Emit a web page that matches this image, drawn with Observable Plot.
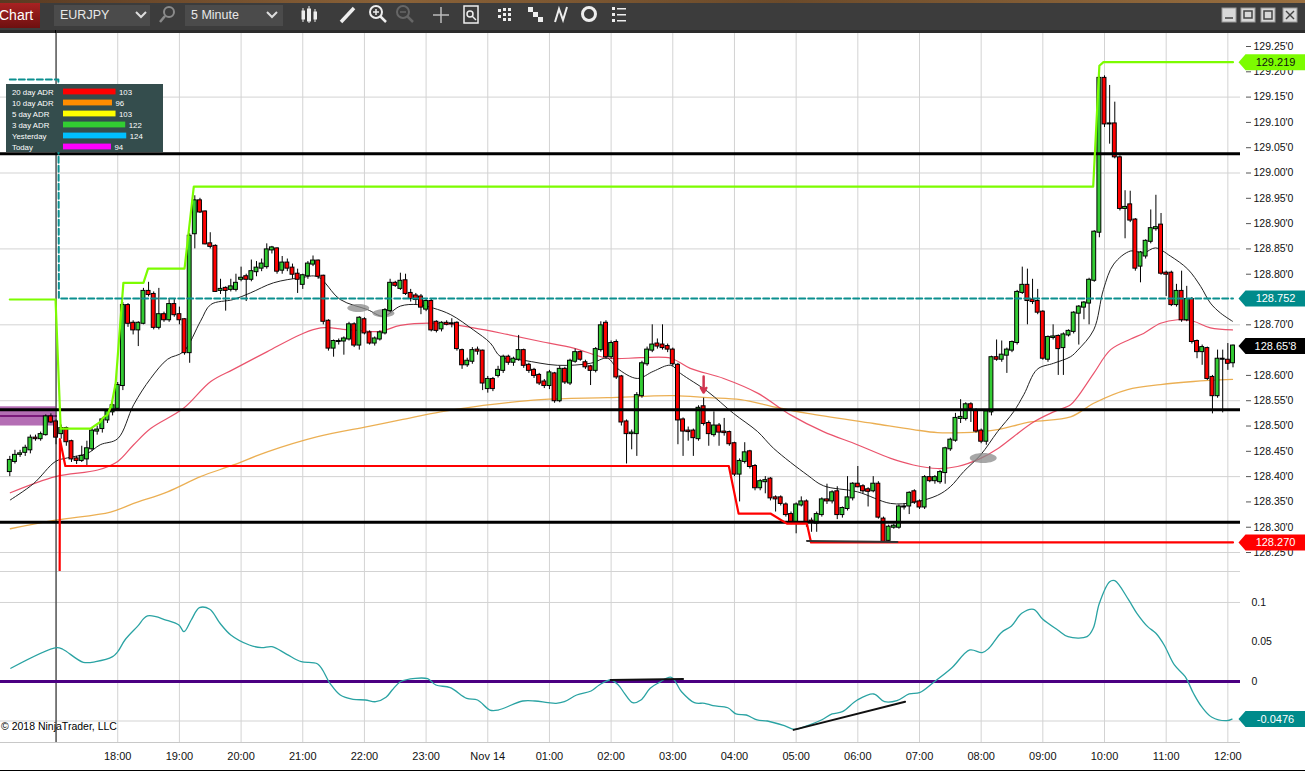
<!DOCTYPE html>
<html><head><meta charset="utf-8">
<script src="https://cdn.jsdelivr.net/npm/d3@7"></script>
<script src="https://cdn.jsdelivr.net/npm/@observablehq/plot@0.6"></script>
<style>
body{margin:0;background:#fff;width:1305px;height:771px;overflow:hidden;position:relative;font-family:"Liberation Sans",Arial,sans-serif;}
#tb{position:absolute;left:0;top:0;width:1305px;height:33px;background:#3c3c3c;}
#tab{position:absolute;left:0;top:3px;width:40px;height:25px;background:linear-gradient(#a82222,#6e1010);color:#fff;font-size:14px;line-height:25px;text-indent:-1px;overflow:hidden;}
.dd{position:absolute;top:5px;height:21px;background:#4b4b4b;color:#e8e8e8;font-size:12.5px;line-height:21px;padding-left:6px;box-sizing:border-box;}
#price,#osc,#legend{position:absolute;}
#price{left:0;top:33px;}
#osc{left:0;top:571px;}
#legend{left:6px;top:84px;}
#copy{position:absolute;left:1px;top:721px;font-size:10.5px;color:#000;line-height:11px;}
#bottomline{position:absolute;left:0;top:770px;width:1305px;height:1px;background:#000;}
</style></head><body>
<div id="tb">
  <div style="position:absolute;left:0;top:0;width:1305px;height:3px;background:linear-gradient(90deg,#5a3a22,#8a6238 30%,#6b4a2a 60%,#9a7040)"></div>
  <div style="position:absolute;left:0;top:30px;width:1305px;height:3px;background:#2c2c2c"></div>
  <div id="tab">Chart</div>
  <div class="dd" style="left:54px;width:96px">EURJPY</div>
  <div class="dd" style="left:185px;width:98px">5 Minute</div>
  <svg width="1305" height="33" style="position:absolute;left:0;top:0">
    <polyline points="136,12 141,17 146,12" fill="none" stroke="#ddd" stroke-width="2"/>
    <polyline points="267,12 272,17 277,12" fill="none" stroke="#ddd" stroke-width="2"/>
    <circle cx="169" cy="12" r="5" fill="none" stroke="#8a8a8a" stroke-width="2"/>
    <line x1="165" y1="16" x2="160" y2="22" stroke="#8a8a8a" stroke-width="2.5"/>
    <g stroke="#eee" fill="#eee"><line x1="303" y1="8" x2="303" y2="22"/><rect x="302" y="11" width="2.5" height="8"/><line x1="309" y1="6" x2="309" y2="23"/><rect x="307.5" y="9" width="3" height="12"/><line x1="315" y1="9" x2="315" y2="22"/><rect x="314" y="12" width="2.5" height="7"/></g>
    <line x1="341" y1="22" x2="354" y2="8" stroke="#eee" stroke-width="3.5"/>
    <circle cx="376" cy="12" r="6" fill="none" stroke="#eee" stroke-width="2"/><line x1="373" y1="12" x2="379" y2="12" stroke="#eee" stroke-width="1.5"/><line x1="376" y1="9" x2="376" y2="15" stroke="#eee" stroke-width="1.5"/><line x1="380" y1="16" x2="386" y2="22" stroke="#eee" stroke-width="2.5"/>
    <circle cx="403" cy="12" r="6" fill="none" stroke="#666" stroke-width="2"/><line x1="400" y1="12" x2="406" y2="12" stroke="#666" stroke-width="1.5"/><line x1="407" y1="16" x2="413" y2="22" stroke="#666" stroke-width="2.5"/>
    <line x1="433" y1="15" x2="449" y2="15" stroke="#bbb" stroke-width="1.5"/><line x1="441" y1="7" x2="441" y2="23" stroke="#bbb" stroke-width="1.5"/>
    <rect x="464" y="6" width="14" height="17" fill="none" stroke="#eee" stroke-width="1.5"/><circle cx="470" cy="14" r="3" fill="none" stroke="#eee" stroke-width="1.5"/><line x1="472" y1="16" x2="476" y2="20" stroke="#eee" stroke-width="1.5"/>
    <g fill="#eee"><rect x="498" y="9" width="3" height="3"/><rect x="498" y="15" width="3" height="3"/><rect x="503" y="8" width="3" height="3"/><rect x="503" y="13" width="3" height="3"/><rect x="503" y="18" width="3" height="3"/><rect x="508" y="8" width="3" height="3"/><rect x="508" y="13" width="3" height="3"/><rect x="508" y="18" width="3" height="3"/></g>
    <g fill="#eee"><rect x="528" y="7" width="5" height="5"/><rect x="533" y="12" width="5" height="5"/><rect x="538" y="17" width="5" height="5"/></g>
    <polyline points="555,22 559,9 563,20 567,7" fill="none" stroke="#eee" stroke-width="2"/>
    <circle cx="589" cy="14" r="6.5" fill="none" stroke="#eee" stroke-width="3"/>
    <g fill="#eee"><rect x="612" y="7" width="3" height="3"/><rect x="617" y="8" width="9" height="1.5"/><rect x="612" y="13" width="3" height="3"/><rect x="617" y="14" width="9" height="1.5"/><rect x="612" y="19" width="3" height="3"/><rect x="617" y="20" width="9" height="1.5"/></g>
    <g fill="#d8d8d8" stroke="#999"><rect x="1222" y="8" width="14" height="14"/><rect x="1241" y="8" width="14" height="14"/><rect x="1261" y="8" width="14" height="14"/><rect x="1283" y="8" width="14" height="14"/></g>
    <g stroke="#444" stroke-width="1.5" fill="none"><line x1="1225" y1="18" x2="1233" y2="18"/><rect x="1244" y="11" width="8" height="7"/><rect x="1264" y="11" width="8" height="8"/><line x1="1286" y1="11" x2="1294" y2="19"/><line x1="1294" y1="11" x2="1286" y2="19"/></g>
    <line x1="55.5" y1="30" x2="55.5" y2="33" stroke="#000"/>
  </svg>
</div>
<div id="price"></div>
<div id="osc"></div>
<div id="legend"></div>
<div id="copy">© 2018 NinjaTrader, LLC</div>
<div id="bottomline"></div>
<script>
// ---------- DATA ----------
// 5-minute EURJPY bars, index 0 = 16:15, index 9 = 17:00 (session start), index 238 = 12:05
const open = [
128.410,128.430,128.444,128.448,128.453,128.476,128.475,128.483,128.518,128.508,
128.485,128.495,128.469,128.435,128.432,128.435,128.455,128.490,128.495,128.512,
128.528,128.535,128.580,128.738,128.703,128.690,128.703,128.766,128.760,128.695,
128.720,128.710,128.740,128.720,128.710,128.645,128.880,128.945,128.923,128.860,
128.855,128.768,128.772,128.770,128.770,128.790,128.795,128.790,128.805,128.812,
128.815,128.848,128.850,128.808,128.822,128.812,128.800,128.780,128.797,128.820,
128.826,128.796,128.707,128.654,128.667,128.668,128.672,128.700,128.660,128.710,
128.684,128.664,128.672,128.684,128.728,128.782,128.772,128.787,128.762,128.757,
128.755,128.731,128.746,128.705,128.692,128.703,128.702,128.703,128.649,128.621,
128.628,128.650,128.648,128.574,128.592,128.600,128.610,128.636,128.626,128.632,
128.649,128.620,128.610,128.600,128.587,128.580,128.603,128.550,128.612,128.585,
128.628,128.645,128.625,128.617,128.610,128.651,128.703,128.637,128.665,128.597,
128.508,128.485,128.485,128.560,128.623,128.650,128.662,128.660,128.657,128.650,
128.620,128.512,128.490,128.490,128.475,128.538,128.505,128.483,128.500,128.488,
128.487,128.465,128.405,128.430,128.449,128.420,128.378,128.390,128.395,128.358,
128.358,128.344,128.325,128.310,128.344,128.350,128.312,128.308,128.325,128.354,
128.352,128.370,128.325,128.337,128.358,128.385,128.380,128.374,128.372,128.385,
128.316,128.274,128.300,128.300,128.340,128.342,128.370,128.350,128.340,128.398,
128.392,128.390,128.408,128.455,128.472,128.515,128.515,128.542,128.530,128.490,
128.470,128.528,128.635,128.632,128.640,128.650,128.665,128.764,128.778,128.749,
128.746,128.725,128.632,128.675,128.677,128.655,128.680,128.687,128.723,128.735,
128.743,128.788,128.883,129.187,129.097,129.097,129.030,128.930,128.937,128.907,
128.816,128.836,128.865,128.890,128.897,128.802,128.802,128.740,128.766,128.710,
128.750,128.667,128.647,128.653,128.596,128.560,128.632,128.630,128.625];
const high = [
128.440,128.452,128.452,128.462,128.482,128.482,128.488,128.522,128.524,128.512,
128.502,128.498,128.472,128.440,128.460,128.470,128.496,128.500,128.516,128.532,
128.548,128.586,128.744,128.742,128.708,128.706,128.772,128.784,128.765,128.772,
128.725,128.752,128.750,128.735,128.712,128.880,128.955,128.950,128.925,128.882,
128.858,128.790,128.775,128.790,128.800,128.814,128.800,128.828,128.825,128.830,
128.860,128.855,128.852,128.835,128.830,128.820,128.810,128.800,128.825,128.836,
128.828,128.798,128.710,128.670,128.672,128.676,128.705,128.704,128.716,128.714,
128.688,128.676,128.688,128.732,128.790,128.786,128.802,128.800,128.770,128.762,
128.760,128.750,128.750,128.708,128.706,128.708,128.712,128.706,128.652,128.634,
128.655,128.656,128.650,128.598,128.596,128.618,128.640,128.640,128.636,128.679,
128.652,128.624,128.614,128.604,128.592,128.610,128.606,128.618,128.616,128.632,
128.652,128.648,128.630,128.620,128.655,128.706,128.708,128.668,128.670,128.600,
128.512,128.492,128.566,128.628,128.656,128.700,128.672,128.700,128.662,128.654,
128.624,128.516,128.498,128.494,128.540,128.555,128.510,128.528,128.505,128.515,
128.490,128.468,128.435,128.467,128.452,128.424,128.394,128.400,128.398,128.362,
128.362,128.348,128.330,128.348,128.360,128.354,128.318,128.330,128.358,128.385,
128.372,128.380,128.340,128.400,128.388,128.420,128.384,128.378,128.400,128.390,
128.320,128.304,128.306,128.344,128.346,128.370,128.374,128.354,128.402,128.420,
128.402,128.412,128.458,128.476,128.525,128.552,128.546,128.546,128.534,128.494,
128.532,128.638,128.670,128.668,128.654,128.668,128.768,128.814,128.810,128.790,
128.770,128.728,128.678,128.700,128.680,128.684,128.690,128.726,128.738,128.746,
128.792,128.886,129.192,129.192,129.173,129.140,129.034,128.965,128.964,128.910,
128.845,128.868,128.927,128.956,128.920,128.806,128.806,128.780,128.806,128.776,
128.754,128.670,128.660,128.656,128.600,128.650,128.650,128.663,128.660];
const low = [
128.400,128.425,128.438,128.440,128.445,128.470,128.470,128.480,128.505,128.463,
128.474,128.460,128.428,128.424,128.428,128.422,128.450,128.482,128.486,128.505,
128.520,128.530,128.570,128.695,128.680,128.657,128.700,128.755,128.690,128.690,
128.705,128.705,128.715,128.700,128.640,128.624,128.850,128.920,128.858,128.850,
128.764,128.760,128.727,128.765,128.765,128.785,128.746,128.785,128.795,128.805,
128.810,128.840,128.800,128.800,128.805,128.790,128.762,128.770,128.790,128.815,
128.790,128.700,128.648,128.636,128.660,128.640,128.668,128.655,128.650,128.680,
128.660,128.658,128.668,128.680,128.724,128.774,128.768,128.758,128.745,128.740,
128.720,128.726,128.686,128.684,128.686,128.698,128.694,128.648,128.612,128.616,
128.622,128.640,128.570,128.565,128.568,128.595,128.604,128.620,128.618,128.628,
128.614,128.604,128.594,128.580,128.574,128.572,128.545,128.546,128.582,128.580,
128.624,128.628,128.612,128.580,128.605,128.646,128.632,128.632,128.592,128.500,
128.425,128.453,128.440,128.555,128.618,128.645,128.652,128.650,128.645,128.618,
128.463,128.440,128.470,128.440,128.470,128.500,128.460,128.478,128.460,128.480,
128.460,128.400,128.350,128.425,128.415,128.372,128.372,128.366,128.352,128.330,
128.342,128.320,128.305,128.287,128.340,128.300,128.290,128.290,128.320,128.345,
128.346,128.315,128.318,128.332,128.352,128.378,128.366,128.340,128.368,128.316,
128.270,128.270,128.296,128.296,128.334,128.325,128.345,128.335,128.335,128.388,
128.385,128.385,128.385,128.450,128.468,128.505,128.510,128.507,128.486,128.465,
128.462,128.520,128.628,128.626,128.604,128.645,128.660,128.760,128.700,128.740,
128.720,128.630,128.626,128.670,128.600,128.600,128.676,128.682,128.660,128.710,
128.700,128.784,128.872,129.090,129.057,129.028,128.925,128.870,128.902,128.806,
128.783,128.830,128.860,128.885,128.798,128.756,128.736,128.735,128.705,128.706,
128.662,128.633,128.620,128.590,128.524,128.555,128.526,128.610,128.615];
const close = [
128.432,128.442,128.445,128.456,128.476,128.475,128.483,128.518,128.508,128.478,
128.495,128.469,128.435,128.432,128.440,128.455,128.490,128.492,128.512,128.528,
128.540,128.580,128.738,128.703,128.690,128.703,128.766,128.760,128.695,128.720,
128.710,128.740,128.720,128.710,128.645,128.875,128.945,128.923,128.860,128.855,
128.766,128.770,128.768,128.775,128.782,128.792,128.790,128.805,128.812,128.820,
128.848,128.852,128.806,128.822,128.812,128.800,128.790,128.797,128.820,128.826,
128.796,128.707,128.654,128.667,128.667,128.672,128.700,128.660,128.713,128.684,
128.664,128.672,128.684,128.728,128.782,128.778,128.786,128.762,128.752,128.750,
128.735,128.746,128.690,128.689,128.703,128.701,128.702,128.653,128.621,128.628,
128.649,128.648,128.585,128.592,128.574,128.610,128.636,128.626,128.632,128.649,
128.620,128.610,128.600,128.585,128.580,128.605,128.550,128.612,128.587,128.628,
128.645,128.632,128.617,128.610,128.651,128.698,128.637,128.663,128.597,128.508,
128.485,128.486,128.560,128.623,128.650,128.660,128.658,128.655,128.652,128.623,
128.512,128.490,128.489,128.477,128.535,128.505,128.485,128.500,128.488,128.487,
128.465,128.405,128.430,128.447,128.420,128.378,128.390,128.392,128.358,128.356,
128.347,128.325,128.310,128.344,128.350,128.310,128.310,128.325,128.354,128.352,
128.368,128.325,128.337,128.358,128.385,128.380,128.372,128.371,128.385,128.320,
128.272,128.300,128.302,128.340,128.340,128.367,128.350,128.340,128.398,128.392,
128.398,128.408,128.455,128.472,128.515,128.517,128.542,128.535,128.490,128.470,
128.528,128.635,128.632,128.640,128.650,128.665,128.764,128.778,128.748,128.746,
128.725,128.634,128.675,128.676,128.653,128.680,128.687,128.723,128.735,128.743,
128.788,128.883,129.187,129.097,129.097,129.032,128.930,128.932,128.907,128.812,
128.842,128.865,128.890,128.892,128.802,128.800,128.740,128.766,128.710,128.750,
128.667,128.647,128.655,128.594,128.560,128.632,128.632,128.624,128.658];

// moving averages: [bar index, price]
const maFast = [[0.1,128.354],[4.6,128.386],[8.9,128.430],[11.2,128.437],[15.1,128.446],[17.6,128.463],[21.0,128.475],[24.1,128.542],[27.4,128.594],[30.7,128.632],[33.8,128.647],[37.1,128.707],[39.1,128.740],[43.5,128.750],[46.8,128.763],[51.3,128.783],[56.6,128.793],[59.9,128.795],[64.3,128.750],[69.6,128.730],[72.7,128.717],[76.0,128.737],[79.3,128.740],[82.4,128.733],[85.8,128.720],[90.2,128.690],[93.5,128.664],[95.5,128.637],[99.9,128.630],[106.6,128.620],[113.0,128.624],[116.3,128.634],[118.2,128.614],[122.1,128.594],[125.2,128.608],[128.6,128.620],[130.5,128.604],[135.8,128.568],[140.8,128.525],[145.5,128.489],[148.6,128.456],[155.2,128.403],[158.3,128.382],[164.9,128.370],[171.4,128.347],[175.8,128.349],[180.5,128.363],[183.0,128.380],[185.6,128.410],[188.9,128.443],[192.2,128.489],[195.3,128.528],[197.3,128.562],[199.9,128.612],[203.1,128.624],[206.4,128.637],[207.8,128.650],[210.9,128.690],[212.8,128.770],[214.8,128.820],[218.1,128.846],[220.6,128.842],[222.9,128.852],[225.8,128.836],[229.2,128.810],[231.7,128.776],[233.6,128.743],[235.6,128.723],[237.9,128.707]];
const maMid = [[0.1,128.368],[8.9,128.400],[17.1,128.413],[21.0,128.430],[24.1,128.463],[27.4,128.495],[33.8,128.535],[39.1,128.588],[43.5,128.612],[50.1,128.647],[56.6,128.681],[60.5,128.694],[66.3,128.690],[72.1,128.687],[76.0,128.699],[83.8,128.703],[90.2,128.694],[96.8,128.681],[103.3,128.667],[109.7,128.654],[116.3,128.634],[122.7,128.635],[128.6,128.634],[132.4,128.614],[138.9,128.594],[145.5,128.565],[151.9,128.522],[158.3,128.489],[164.9,128.463],[171.4,128.436],[175.8,128.423],[180.5,128.416],[184.4,128.420],[188.9,128.436],[192.2,128.455],[195.3,128.479],[199.2,128.508],[203.1,128.528],[206.4,128.542],[207.8,128.558],[210.9,128.604],[214.2,128.651],[218.1,128.672],[220.6,128.683],[223.9,128.703],[227.2,128.710],[230.3,128.707],[233.6,128.694],[237.9,128.690]];
const maSlow = [[0.1,128.297],[8.9,128.314],[19.6,128.330],[24.1,128.347],[30.7,128.370],[37.1,128.400],[43.5,128.423],[50.1,128.449],[59.9,128.479],[69.6,128.499],[76.0,128.512],[83.8,128.528],[90.2,128.538],[103.3,128.552],[116.3,128.556],[129.2,128.560],[135.8,128.556],[142.2,128.552],[148.6,128.538],[155.2,128.525],[168.1,128.505],[175.8,128.493],[180.5,128.487],[185.6,128.487],[188.9,128.489],[192.2,128.493],[198.6,128.508],[206.4,128.518],[210.9,128.545],[217.5,128.572],[223.9,128.582],[230.3,128.588],[237.9,128.592]];

// session high / low / prior-level lines: [bar index, price]
const dayHigh = [[0,128.750],[8.9,128.750],[9.9,128.495],[15.7,128.495],[17.6,128.508],[18.3,128.518],[19.0,128.522],[19.8,128.542],[20.6,128.585],[22.1,128.783],[26.0,128.783],[26.9,128.811],[34.0,128.811],[35.8,128.973],[210.8,128.973],[212.0,129.212],[212.8,129.219],[238,129.219]];
const dayLow = [[9.7,128.212],[9.75,128.474],[10.8,128.421],[139.9,128.421],[141.8,128.327],[148.0,128.327],[151.2,128.307],[155.1,128.307],[155.9,128.270],[238,128.270]];
const priorLevel = [[0,129.185],[9.45,129.185],[9.55,128.752],[238,128.752]];
const levels = [129.038, 128.532, 128.310];
const zone = [{start:-1.81, end:9, lo:128.500, hi:128.538, mid:128.520}];
const signals = [{i:67.8, p:128.733, rx:11, ry:4}, {i:72.7, p:128.723, rx:11, ry:4}, {i:189.4, p:128.437, rx:13.5, ry:5}];
const downArrow = [{i:135, from:128.598, to:128.566}];
const priceTrend = [[155.1,128.273],[172.7,128.271]];

// oscillator (lower panel): [bar index, value]
const osc = [[0.2,0.0167],[9.1,0.0428],[10.3,0.0408],[14.3,0.0243],[16.7,0.0251],[20.0,0.0314],[21.0,0.0377],[22.4,0.0525],[24.8,0.0694],[26.8,0.0829],[30.4,0.0778],[32.9,0.0715],[33.9,0.0630],[35.3,0.0778],[36.9,0.0934],[38.9,0.0914],[40.9,0.0737],[43.0,0.0589],[46.6,0.0462],[49.0,0.0428],[51.0,0.0441],[53.9,0.0344],[56.7,0.0251],[59.9,0.0222],[62.3,-0.0023],[64.3,-0.0171],[66.8,-0.0225],[69.2,-0.0234],[71.2,-0.0256],[73.2,-0.0200],[74.4,-0.0108],[76.0,-0.0003],[78.9,0.0040],[81.3,0.0035],[82.9,-0.0044],[85.7,-0.0078],[88.9,-0.0213],[91.0,-0.0234],[93.4,-0.0361],[95.0,-0.0361],[99.8,-0.0247],[102.2,-0.0247],[104.7,-0.0268],[106.3,-0.0276],[107.9,-0.0256],[110.3,-0.0171],[113.1,-0.0120],[114.7,-0.0044],[116.9,0.0019],[118.4,-0.0044],[119.6,-0.0150],[121.2,-0.0268],[122.8,-0.0234],[124.6,-0.0086],[126.3,-0.0015],[128.7,0.0053],[130.7,-0.0129],[133.2,-0.0268],[135.2,-0.0276],[136.8,-0.0306],[139.7,-0.0332],[141.3,-0.0411],[143.3,-0.0424],[145.4,-0.0487],[147.4,-0.0500],[150.7,-0.0559],[152.7,-0.0605],[155.5,-0.0551],[157.9,-0.0487],[160.0,-0.0411],[162.0,-0.0382],[164.9,-0.0234],[168.1,-0.0158],[170.2,-0.0256],[172.6,-0.0243],[175.0,-0.0158],[177.0,-0.0142],[179.9,-0.0003],[183.2,0.0167],[186.8,0.0399],[189.2,0.0365],[190.5,0.0420],[192.9,0.0618],[194.9,0.0703],[196.9,0.0863],[199.2,0.0914],[201.0,0.0787],[203.9,0.0652],[205.9,0.0567],[209.6,0.0567],[210.8,0.0673],[212.0,0.0990],[214.0,0.1263],[215.0,0.1276],[217.7,0.1032],[219.3,0.0863],[221.4,0.0694],[223.0,0.0610],[224.6,0.0462],[226.6,0.0209],[228.7,0.0061],[230.3,-0.0149],[231.9,-0.0319],[233.9,-0.0453],[236.8,-0.0496],[237.8,-0.0476]];
const oscTrends = [[[116.9,0.0019],[131.0,0.0032]], [[152.5,-0.0612],[174.2,-0.0256]]];

// axes
const hourIdx = [9,21,33,45,57,69,81,93,105,117,129,141,153,165,177,189,201,213,225,237];
const hourLabels = ["17:00","18:00","19:00","20:00","21:00","22:00","23:00","Nov 14","01:00","02:00","03:00","04:00","05:00","06:00","07:00","08:00","09:00","10:00","11:00","12:00"];
const priceTicks = [128.25,128.30,128.35,128.40,128.45,128.50,128.55,128.60,128.65,128.70,128.75,128.80,128.85,128.90,128.95,129.00,129.05,129.10,129.15,129.20,129.25];
const priceGrid = [128.25,128.40,128.55,128.70,128.85,129.00,129.15];
const oscTicks = [0.1,0.05,0];
const oscGrid = [0.1,-0.05];

// value tags
const priceTagValue = [129.219, 128.752, 128.658, 128.270];
const priceTagText = ["129.219", "128.752", "128.65'8", "128.270"];
const priceTagFill = ["#7cfc00", "#008b8b", "#000000", "#ff0000"];
const priceTagInk = ["#111111", "#ffffff", "#ffffff", "#ffffff"];
const oscTagValue = [-0.0476];
const oscTagText = ["-0.0476"];

// ADR legend
const adrLabels = ["20 day ADR","10 day ADR","5 day ADR","3 day ADR","Yesterday","Today"];
const adrValues = [103, 96, 103, 122, 124, 94];
const adrColors = ["#ff0000","#ff8c00","#ffff00","#32cd32","#00bfff","#ff00ff"];

// ---------- BUILD ----------
const FONT = "'Liberation Sans', Arial, sans-serif";
const xDomain = [-1.81, 239.46];
const bars = close.map((c, i) => ({i, o: open[i], h: high[i], l: low[i], c}));
const hourLabelMap = new Map(hourIdx.map((h, k) => [h, hourLabels[k]]));
const fmtPrice = v => { const s = v.toFixed(3); return s.slice(0, -1) + "'" + s.slice(-1); };
const priceTags = priceTagValue.map((v, k) => ({v, t: priceTagText[k], f: priceTagFill[k], ink: priceTagInk[k]}));
const oscTags = oscTagValue.map((v, k) => ({v, t: oscTagText[k], f: "#008b8b", ink: "#ffffff"}));
// tick labels fully hidden behind a value tag are not shown (as in the original)
const visiblePriceTicks = priceTicks.filter(t => priceTagValue.every(v => Math.abs(v - t) > 0.016));

const tagSymbol = {draw(ctx) { ctx.moveTo(-35, 0); ctx.lineTo(-28, -8); ctx.lineTo(33, -8); ctx.lineTo(33, 8); ctx.lineTo(-28, 8); ctx.closePath(); }};
function ellipseSymbol(rx, ry) {
  const k = 0.5523;
  return {draw(ctx) {
    ctx.moveTo(rx, 0);
    ctx.bezierCurveTo(rx, ry * k, rx * k, ry, 0, ry);
    ctx.bezierCurveTo(-rx * k, ry, -rx, ry * k, -rx, 0);
    ctx.bezierCurveTo(-rx, -ry * k, -rx * k, -ry, 0, -ry);
    ctx.bezierCurveTo(rx * k, -ry, rx, -ry * k, rx, 0);
    ctx.closePath();
  }};
}
const px = d => d[0], py = d => d[1];

const pricePlot = Plot.plot({
  width: 1305, height: 538,
  marginLeft: 0, marginRight: 65, marginTop: 0, marginBottom: 0,
  x: {domain: xDomain, axis: null},
  y: {domain: [128.2125, 129.2757], axis: null},
  color: {type: "identity"},
  style: {fontFamily: FONT, fontSize: "10.5px", color: "#111", background: "transparent"},
  marks: [
    Plot.gridY(priceGrid, {stroke: "#d3d3d3", strokeOpacity: 1}),
    Plot.gridX(hourIdx, {stroke: "#d3d3d3", strokeOpacity: 1}),
    Plot.rect(zone, {x1: "start", x2: "end", y1: "lo", y2: "hi", fill: "#b066b0", fillOpacity: 0.95}),
    Plot.line(zone.flatMap(z => [[z.start, z.mid], [z.end, z.mid]]), {x: px, y: py, stroke: "#7a1a7a", strokeWidth: 2}),
    Plot.line(maSlow, {x: px, y: py, curve: "catmull-rom", stroke: "#e9a640", strokeWidth: 1.3, strokeOpacity: 0.9}),
    Plot.line(maMid, {x: px, y: py, curve: "catmull-rom", stroke: "#e8405c", strokeWidth: 1.2, strokeOpacity: 0.9}),
    Plot.line(maFast, {x: px, y: py, curve: "catmull-rom", stroke: "#222", strokeWidth: 1}),
    ...signals.map(s => Plot.dot([s], {x: "i", y: "p", symbol: ellipseSymbol(s.rx, s.ry), fill: "#8a8a8a", fillOpacity: 0.75, stroke: "none"})),
    Plot.ruleX(bars, {x: "i", y1: "l", y2: "h", stroke: "#000", strokeWidth: 1}),
    Plot.rect(bars, {
      x1: d => d.i - 0.38, x2: d => d.i + 0.38,
      y1: d => Math.min(d.o, d.c), y2: d => Math.max(d.o, d.c),
      fill: d => d.c > d.o ? "#33cc33" : d.c < d.o ? "#ff0000" : "#000000",
      stroke: "#000", strokeWidth: 1, insetTop: -0.5, insetBottom: -0.5
    }),
    Plot.ruleX([9], {stroke: "#111", strokeWidth: 1}),
    Plot.ruleY(levels, {stroke: "#000", strokeWidth: 3}),
    Plot.line(dayLow, {x: px, y: py, stroke: "#ff0000", strokeWidth: 2.2}),
    Plot.line(dayHigh, {x: px, y: py, stroke: "#7cfc00", strokeWidth: 2.2}),
    Plot.line(priorLevel, {x: px, y: py, stroke: "#0b8f8f", strokeWidth: 2, strokeDasharray: "6,3"}),
    Plot.line(priceTrend, {x: px, y: py, stroke: "#333", strokeWidth: 2}),
    Plot.arrow(downArrow, {x1: "i", x2: "i", y1: "from", y2: "to", stroke: "#d2344f", strokeWidth: 2.5, headLength: 7}),
    Plot.axisY(visiblePriceTicks, {anchor: "right", tickFormat: fmtPrice, tickSize: 5, dx: 5, tickPadding: 3, fontSize: 10.5, label: null, stroke: "#555"}),
    Plot.dot(priceTags, {y: "v", frameAnchor: "right", dx: 33, symbol: tagSymbol, fill: "f", stroke: "none"}),
    Plot.text(priceTags, {y: "v", frameAnchor: "right", dx: 35, textAnchor: "middle", text: "t", fill: "ink", fontSize: 11})
  ]
});
document.getElementById("price").appendChild(pricePlot);

const oscDomain = [-0.0772, 0.1392];
const oscPlot = Plot.plot({
  width: 1305, height: 200,
  marginLeft: 0, marginRight: 65, marginTop: 0, marginBottom: 29,
  x: {domain: xDomain, axis: null},
  y: {domain: oscDomain, axis: null},
  color: {type: "identity"},
  style: {fontFamily: FONT, fontSize: "11px", color: "#111", background: "transparent"},
  marks: [
    Plot.gridY(oscGrid, {stroke: "#d3d3d3", strokeOpacity: 1}),
    Plot.gridX(hourIdx, {stroke: "#d3d3d3", strokeOpacity: 1}),
    Plot.ruleY([oscDomain[1]], {stroke: "#d3d3d3"}),
    Plot.ruleY([oscDomain[0]], {stroke: "#c8c8c8"}),
    Plot.ruleX([9], {stroke: "#111", strokeWidth: 1}),
    Plot.ruleY([0], {stroke: "#4b0082", strokeWidth: 3}),
    Plot.line(osc, {x: px, y: py, curve: "catmull-rom", stroke: "#2aa3a3", strokeWidth: 1.3}),
    ...oscTrends.map(t => Plot.line(t, {x: px, y: py, stroke: "#111", strokeWidth: 2})),
    Plot.axisX(hourIdx.slice(1), {anchor: "bottom", tickFormat: d => hourLabelMap.get(d), tickSize: 0, tickPadding: 10, fontSize: 11, label: null}),
    Plot.axisY(oscTicks, {anchor: "right", tickFormat: d => String(d), tickSize: 0, tickPadding: 11, fontSize: 10.5, label: null}),
    Plot.dot(oscTags, {y: "v", frameAnchor: "right", dx: 33, symbol: tagSymbol, fill: "f", stroke: "none"}),
    Plot.text(oscTags, {y: "v", frameAnchor: "right", dx: 35, textAnchor: "middle", text: "t", fill: "ink", fontSize: 11})
  ]
});
document.getElementById("osc").appendChild(oscPlot);

const adr = adrLabels.map((l, k) => ({label: l, value: adrValues[k], color: adrColors[k]}));
const legendPlot = Plot.plot({
  width: 157, height: 68,
  marginLeft: 57, marginRight: 49, marginTop: 2, marginBottom: 0,
  x: {domain: [0, 100], axis: null},
  y: {domain: adrLabels, axis: null, padding: 0},
  color: {type: "identity"},
  style: {fontFamily: FONT, fontSize: "7.8px", color: "#fff", background: "#344d4d"},
  marks: [
    Plot.barX(adr, {x: "value", y: "label", fill: "color", insetTop: 2.6, insetBottom: 2.6}),
    Plot.text(adr, {y: "label", text: "label", frameAnchor: "left", dx: -51.5, textAnchor: "start", fill: "#fff", fontSize: 7.8}),
    Plot.text(adr, {x: "value", y: "label", text: d => String(d.value), dx: 3, textAnchor: "start", fill: "#fff", fontSize: 7.8})
  ]
});
document.getElementById("legend").appendChild(legendPlot);
</script>
</body></html>
